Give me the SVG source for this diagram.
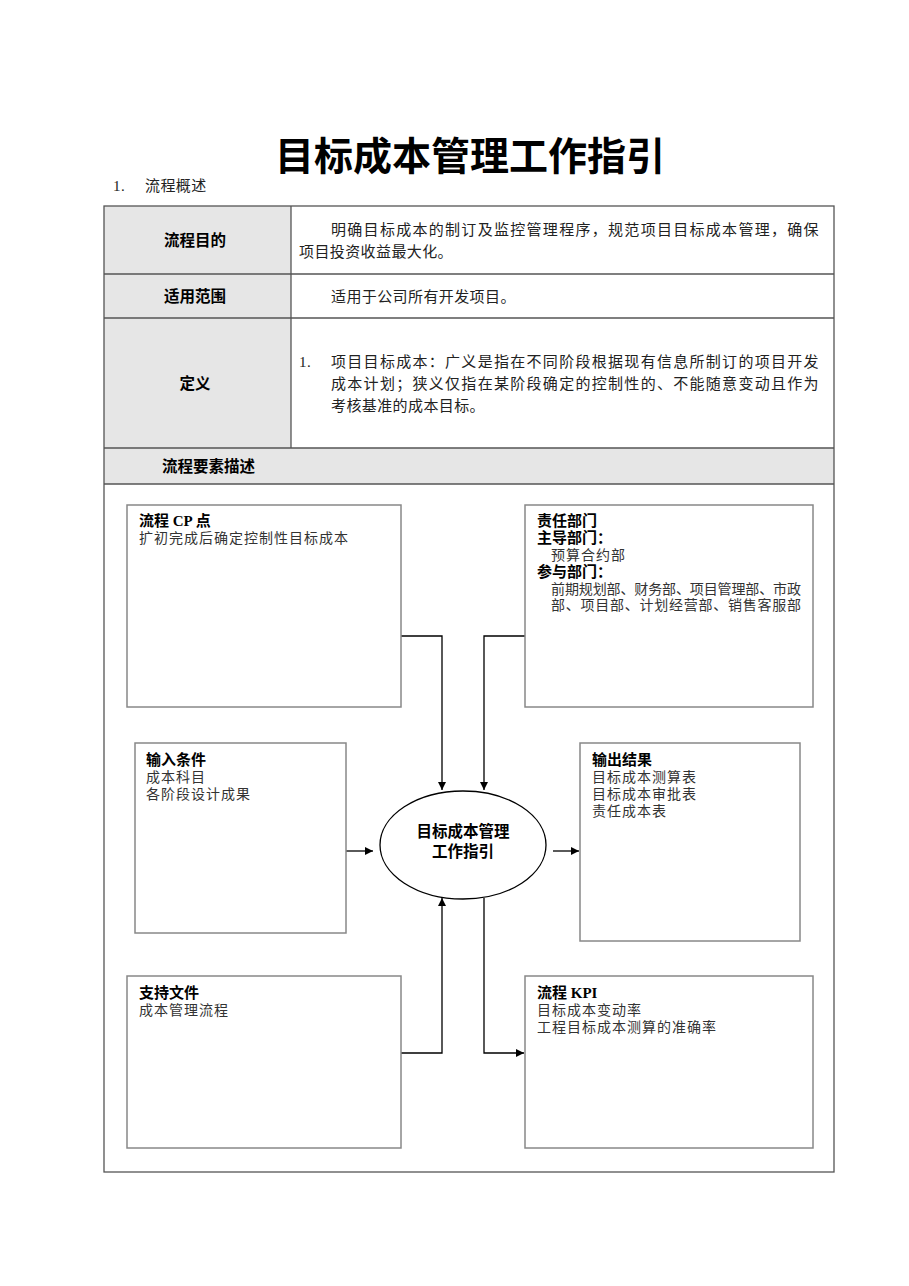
<svg xmlns="http://www.w3.org/2000/svg" width="909" height="1286" viewBox="0 0 909 1286">
<style>
.t{font-family:"Liberation Serif","Noto Sans CJK SC",serif;font-size:15px;letter-spacing:0.4px;fill:#222}
.b{font-family:"Noto Sans CJK SC","Liberation Sans",sans-serif;font-size:15.5px;font-weight:bold;fill:#000}
.bs{font-family:"Liberation Serif","Noto Sans CJK SC",serif;font-size:15px;font-weight:bold;fill:#000}
.s{font-family:"Liberation Serif","Noto Sans CJK SC",serif;font-size:14px;letter-spacing:1px;fill:#333}
.cell{stroke:#555;stroke-width:1.3}
.box{fill:#fff;stroke:#888;stroke-width:1.5}
.c{fill:none;stroke:#000;stroke-width:1.3}
</style>
<defs>
<marker id="ah" viewBox="0 0 10 10" refX="10" refY="5" markerWidth="8" markerHeight="8" markerUnits="userSpaceOnUse" orient="auto">
<path d="M0,0 L10,5 L0,10 z" fill="#000"/>
</marker>
</defs>
<rect width="909" height="1286" fill="#fff"/>
<text x="470" y="170" text-anchor="middle" style="font-family:'Noto Sans CJK SC',sans-serif;font-size:39px;font-weight:bold;fill:#000">目标成本管理工作指引</text>
<text x="113" y="191" class="t">1.</text>
<text x="145" y="191" class="t">流程概述</text>
<g id="table">
<rect x="104" y="206" width="187" height="242" fill="#e6e6e6"/>
<rect x="104" y="448" width="730" height="36" fill="#e6e6e6"/>
<rect x="104" y="206" width="730" height="966" fill="none" class="cell"/>
<line x1="291" y1="206" x2="291" y2="448" class="cell"/>
<line x1="104" y1="274" x2="834" y2="274" class="cell"/>
<line x1="104" y1="318" x2="834" y2="318" class="cell"/>
<line x1="104" y1="448" x2="834" y2="448" class="cell"/>
<line x1="104" y1="484" x2="834" y2="484" class="cell"/>
<text x="195" y="246" text-anchor="middle" class="b">流程目的</text>
<text x="331" y="235" class="t" textLength="488" lengthAdjust="spacing">明确目标成本的制订及监控管理程序，规范项目目标成本管理，确保</text>
<text x="299" y="257" class="t">项目投资收益最大化。</text>
<text x="195" y="302" text-anchor="middle" class="b">适用范围</text>
<text x="331" y="302" class="t">适用于公司所有开发项目。</text>
<text x="195" y="389" text-anchor="middle" class="b">定义</text>
<text x="299" y="367" class="t">1.</text>
<text x="331" y="367" class="t" textLength="488" lengthAdjust="spacing">项目目标成本：广义是指在不同阶段根据现有信息所制订的项目开发</text>
<text x="331" y="389" class="t" textLength="488" lengthAdjust="spacing">成本计划；狭义仅指在某阶段确定的控制性的、不能随意变动且作为</text>
<text x="331" y="411" class="t">考核基准的成本目标。</text>
<text x="162" y="472" class="b">流程要素描述</text>
</g>
<g id="connectors">
<polyline points="401,636 442,636 442,790" class="c" marker-end="url(#ah)"/>
<polyline points="525,636 484,636 484,790" class="c" marker-end="url(#ah)"/>
<line x1="346" y1="851" x2="373" y2="851" class="c" marker-end="url(#ah)"/>
<line x1="553" y1="851" x2="579" y2="851" class="c" marker-end="url(#ah)"/>
<polyline points="401,1053 442,1053 442,898" class="c" marker-end="url(#ah)"/>
<polyline points="484,898 484,1053 524,1053" class="c" marker-end="url(#ah)"/>
</g>
<g id="cp">
<rect x="127" y="505" width="274" height="202" class="box"/>
<text x="139" y="526" class="bs">流程 CP 点</text>
<text x="139" y="543" class="s">扩初完成后确定控制性目标成本</text>
</g>
<g id="dept">
<rect x="525" y="505" width="288" height="202" class="box"/>
<text x="537" y="526" class="bs">责任部门</text>
<text x="537" y="543" class="bs">主导部门：</text>
<text x="551" y="560" class="s">预算合约部</text>
<text x="537" y="577" class="bs">参与部门：</text>
<text x="551" y="594" class="s" textLength="251" lengthAdjust="spacing">前期规划部、财务部、项目管理部、市政</text>
<text x="551" y="610" class="s" textLength="251" lengthAdjust="spacing">部、项目部、计划经营部、销售客服部</text>
</g>
<g id="input">
<rect x="135" y="743" width="211" height="190" class="box"/>
<text x="146" y="765" class="bs">输入条件</text>
<text x="146" y="782" class="s">成本科目</text>
<text x="146" y="799" class="s">各阶段设计成果</text>
</g>
<g id="output">
<rect x="580" y="743" width="220" height="198" class="box"/>
<text x="592" y="765" class="bs">输出结果</text>
<text x="592" y="782" class="s">目标成本测算表</text>
<text x="592" y="799" class="s">目标成本审批表</text>
<text x="592" y="816" class="s">责任成本表</text>
</g>
<g id="center">
<ellipse cx="463" cy="845" rx="83" ry="54" fill="#fff" stroke="#000" stroke-width="1.3"/>
<text x="463" y="837" text-anchor="middle" class="b">目标成本管理</text>
<text x="463" y="857" text-anchor="middle" class="b">工作指引</text>
</g>
<g id="support">
<rect x="127" y="976" width="274" height="172" class="box"/>
<text x="139" y="998" class="bs">支持文件</text>
<text x="139" y="1015" class="s">成本管理流程</text>
</g>
<g id="kpi">
<rect x="525" y="976" width="288" height="172" class="box"/>
<text x="537" y="998" class="bs">流程 KPI</text>
<text x="537" y="1015" class="s">目标成本变动率</text>
<text x="537" y="1032" class="s">工程目标成本测算的准确率</text>
</g>
</svg>
